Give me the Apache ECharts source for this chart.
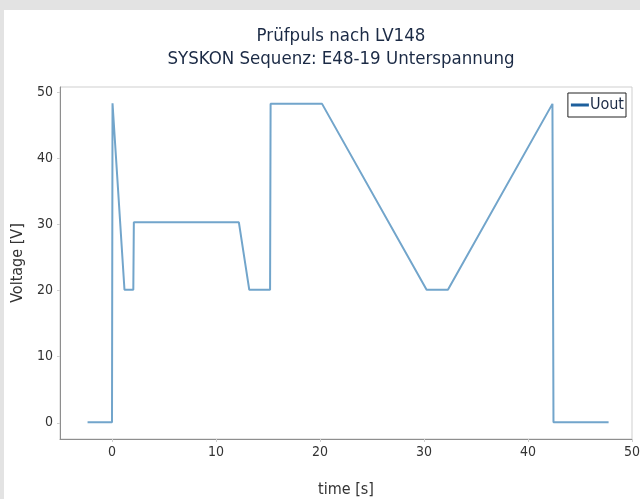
<!DOCTYPE html>
<html><head><meta charset="utf-8">
<script src="https://cdn.jsdelivr.net/npm/echarts@6/dist/echarts.min.js"></script>
<style>
html,body{margin:0;padding:0;background:#e3e3e3;}
#wrap{position:absolute;left:4px;top:10px;width:636px;height:489px;background:#fff;}
#c{position:absolute;left:0;top:0;width:640px;height:499px;}
</style></head>
<body><div id="wrap"></div><div id="c"></div>
<script>
const titleLines = ['Prüfpuls nach LV148', 'SYSKON Sequenz: E48-19 Unterspannung'];
const seriesName = 'Uout';
const timeS = [-2.35, 0.0, 0.05, 1.2, 2.05, 2.1, 12.2, 13.2, 15.2, 15.25, 20.2, 30.25, 32.3, 42.35, 42.45, 47.75];
const voltageV = [0.1, 0.1, 48.3, 20.1, 20.1, 30.3, 30.3, 20.1, 20.1, 48.2, 48.2, 20.1, 20.1, 48.2, 0.1, 0.1];
const xTicks = [0, 10, 20, 30, 40, 50];
const yTicks = [0, 10, 20, 30, 40, 50];

const FONT = '"Liberation Sans Narrow", "DejaVu Sans Condensed", "Liberation Sans", sans-serif';
const chart = echarts.init(document.getElementById('c'), null, {renderer: 'canvas'});
chart.setOption({
  backgroundColor: 'transparent',
  animation: false,
  title: {
    text: titleLines.join('\n'),
    left: 336, top: 20, textAlign: 'center',
    textStyle: {fontFamily: FONT, fontSize: 18.5, fontWeight: 'normal', color: '#1b2a45', lineHeight: 23}
  },
  legend: {
    right: 14, top: 93,
    data: [{name: seriesName, icon: 'rect', itemStyle: {color: '#1d5f9c'}}],
    itemWidth: 18, itemHeight: 3, itemGap: 4,
    borderColor: '#222', borderWidth: 1, padding: [4, 2, 4, 3],
    textStyle: {fontFamily: FONT, fontSize: 16, color: '#1b2a45', padding: [0, 0, 0, -4]}
  },
  grid: {left: 60, right: 8, top: 87, bottom: 60, show: true, borderColor: '#cfcfcf', borderWidth: 1,
         outerBoundsMode: 'none', containLabel: false},
  xAxis: {
    type: 'value', min: -5, max: 50,
    name: 'time [s]', nameLocation: 'middle', nameGap: 43,
    nameTextStyle: {fontFamily: FONT, fontSize: 16, color: '#333'},
    axisLine: {show: true, onZero: false, lineStyle: {color: '#8e8e8e', width: 1}},
    axisTick: {show: true, length: 3, customValues: xTicks, lineStyle: {color: '#cfcfcf'}},
    axisLabel: {customValues: xTicks, fontFamily: FONT, fontSize: 14, color: '#333', margin: 6},
    splitLine: {show: false}
  },
  yAxis: {
    type: 'value', min: -2.45, max: 50.75,
    name: 'Voltage [V]', nameLocation: 'middle', nameGap: 33,
    nameTextStyle: {fontFamily: FONT, fontSize: 16, color: '#333'},
    axisLine: {show: true, onZero: false, lineStyle: {color: '#8e8e8e', width: 1}},
    axisTick: {show: true, length: 3, customValues: yTicks, lineStyle: {color: '#cfcfcf'}},
    axisLabel: {customValues: yTicks, fontFamily: FONT, fontSize: 14, color: '#333', margin: 7},
    splitLine: {show: false}
  },
  series: [{
    name: seriesName, type: 'line', showSymbol: false, symbol: 'none',
    data: timeS.map((t, i) => [t, voltageV[i]]),
    lineStyle: {color: '#72a5cb', width: 2},
    itemStyle: {color: '#72a5cb'}
  }]
});
</script></body></html>
